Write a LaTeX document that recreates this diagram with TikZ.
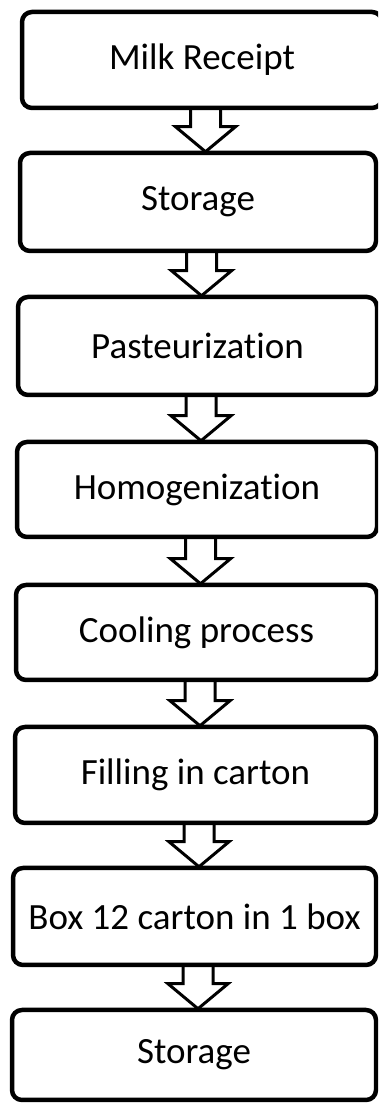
\documentclass[tikz,border=0pt]{standalone}
\usepackage{fontspec}
\setmainfont{Carlito}[Ligatures=NoCommon]
\usetikzlibrary{calc}

\tikzset{
  stepbox/.style={draw=black, line width=4.5pt, rounded corners=10pt,
    inner sep=0pt, font=\fontsize{37}{40}\selectfont, text=black},
  blockarrow/.style={draw=black, line width=3pt, line join=miter}
}

% hollow block arrow from the bottom of one box to the top of the next
\newcommand{\flowarrow}[2]{%
  \draw[blockarrow] let \p1=(#1.south), \p2=(#2.north) in
    (\x1-11.5pt,\y1) -- (\x1-11.5pt,\y2+24pt) -- (\x1-26.5pt,\y2+24pt)
    -- (\x1+3.5pt,\y2-1pt) -- (\x1+33.5pt,\y2+24pt) -- (\x1+18.5pt,\y2+24pt)
    -- (\x1+18.5pt,\y1);%
}

\begin{document}
\begin{tikzpicture}[x=1pt,y=1pt]
  \useasboundingbox (0,0) rectangle (378,1104);
  \fill[white] (0,0) rectangle (378,1104);
  \clip (0,0) rectangle (378,1104);

  \node[stepbox, minimum width=360pt, minimum height=96pt] (b1) at (202,1044) {Milk Receipt};
  \node[stepbox, minimum width=356pt, minimum height=98pt] (b2) at (198,902) {Storage};
  \node[stepbox, minimum width=359pt, minimum height=98pt] (b3) at (197.5,758) {Pasteurization};
  \node[stepbox, minimum width=360pt, minimum height=95pt] (b4) at (197,614.5) {Homogenization};
  \node[stepbox, minimum width=361pt, minimum height=95pt] (b5) at (196.5,471.5) {Cooling process};
  \node[stepbox, minimum width=361pt, minimum height=96pt] (b6) at (195.5,329) {Filling in carton};
  \node[stepbox, minimum width=363pt, minimum height=97pt] (b7) at (194.5,187.5) {Box 12 carton in 1 box};
  \node[stepbox, minimum width=364pt, minimum height=90pt] (b8) at (194,49) {Storage};

  \flowarrow{b1}{b2}
  \flowarrow{b2}{b3}
  \flowarrow{b3}{b4}
  \flowarrow{b4}{b5}
  \flowarrow{b5}{b6}
  \flowarrow{b6}{b7}
  \flowarrow{b7}{b8}
\end{tikzpicture}
\end{document}
